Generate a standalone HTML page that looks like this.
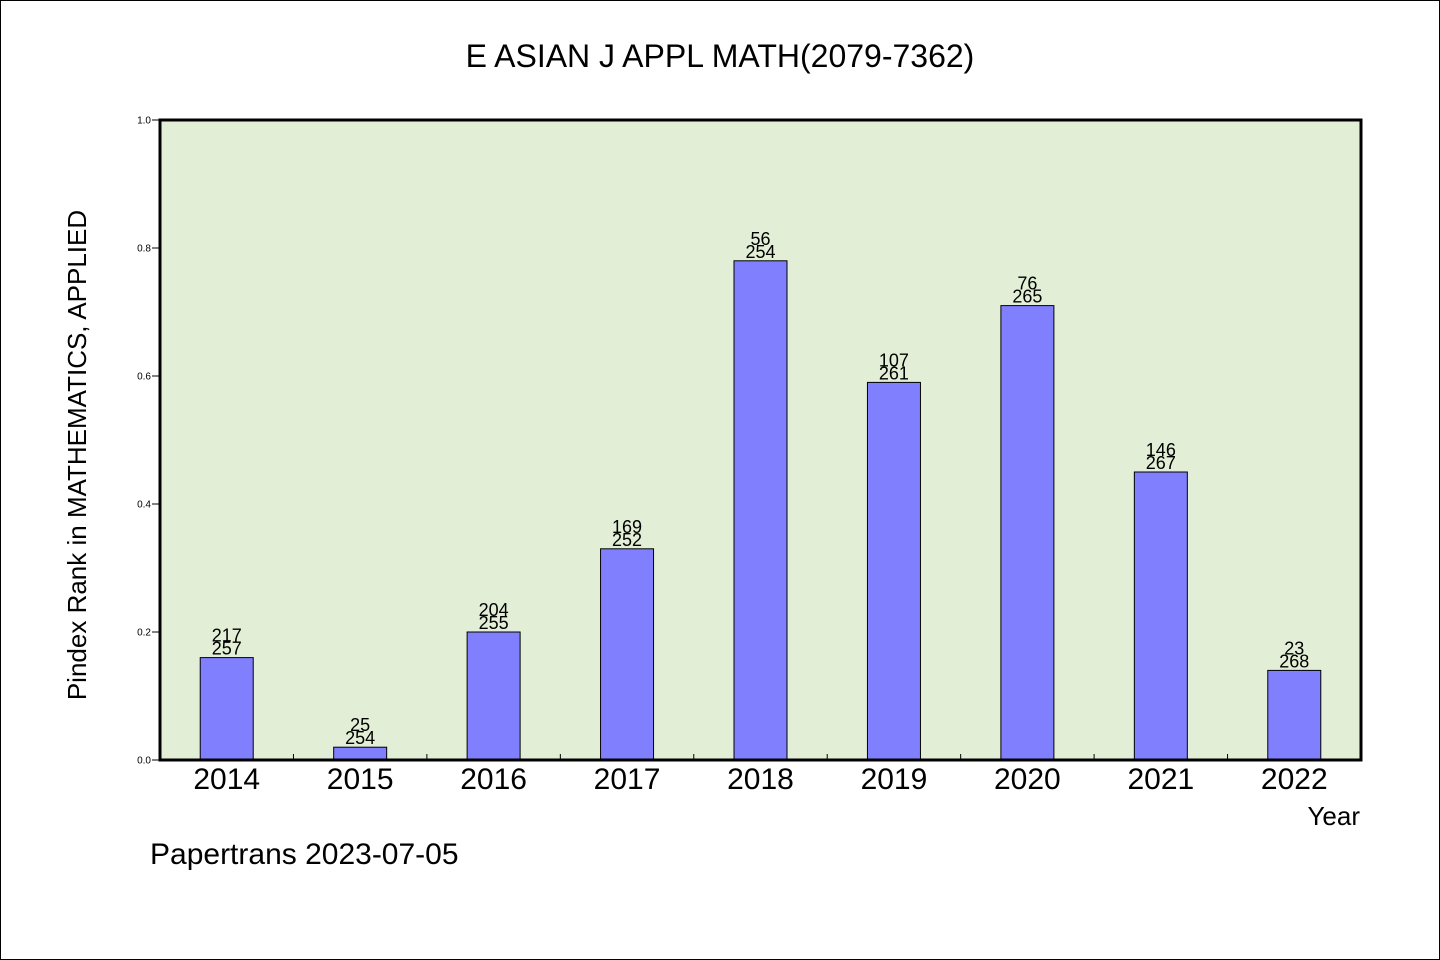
<!DOCTYPE html>
<html><head><meta charset="utf-8"><style>
html,body{margin:0;padding:0;background:#fff}
svg{display:block}
text{font-family:"WenQuanYi Zen Hei","Liberation Sans",sans-serif;fill:#000}
</style></head><body>
<svg id="chart" width="1440" height="960" viewBox="0 0 1440 960">
<rect x="0.5" y="0.5" width="1439" height="959" fill="#fff" stroke="#000"/>
<text x="720" y="67" font-size="32" text-anchor="middle">E ASIAN J APPL MATH(2079-7362)</text>
<rect x="160" y="120" width="1201" height="640" fill="#e2efd6"/>
<g id="bars"></g>
<g id="axes"></g>
<text x="1360" y="825" font-size="26" text-anchor="end">Year</text>
<text transform="translate(86,455) rotate(-90)" font-size="26" text-anchor="middle">Pindex Rank in MATHEMATICS, APPLIED</text>
<text x="150" y="864" font-size="30">Papertrans 2023-07-05</text>
</svg>
<script>
const categories=["2014","2015","2016","2017","2018","2019","2020","2021","2022"];
const values=[0.16,0.02,0.2,0.33,0.78,0.59,0.71,0.45,0.14];
const ranks=[217,25,204,169,56,107,76,146,23];
const totals=[257,254,255,252,254,261,265,267,268];
const yTicks=[0,0.2,0.4,0.6,0.8,1.0];
const X0=160,X1=1361,Y0=760,Y1=120;
const NS="http://www.w3.org/2000/svg";
const step=(X1-X0)/categories.length;
function xc(i){return X0+step*(i+0.5);}
function ys(v){return Y0-(Y0-Y1)*v;}
function mk(tag,attrs,parent){const e=document.createElementNS(NS,tag);for(const k in attrs)e.setAttribute(k,attrs[k]);parent.appendChild(e);return e;}
const bars=document.getElementById('bars'),axes=document.getElementById('axes');
categories.forEach((c,i)=>{
 const x=xc(i),y=ys(values[i]);
 const r=mk('rect',{x:x-26.5,y:y,width:53,height:Y0-y,fill:'#8080ff',stroke:'#000','stroke-width':1},bars);
 
 
 const t1=mk('text',{x:x,y:y-16,'font-size':18,'text-anchor':'middle'},bars);t1.textContent=ranks[i];
 
 
 const t2=mk('text',{x:x,y:y-3,'font-size':18,'text-anchor':'middle'},bars);t2.textContent=totals[i];
 
 
 const xl=mk('text',{x:x,y:789,'font-size':30,'text-anchor':'middle'},axes);xl.textContent=c;
 
 
 if(i>0){const tk=mk('line',{x1:X0+step*i,x2:X0+step*i,y1:Y0,y2:Y0-6,stroke:'#000'},axes);
 
 }
});
yTicks.forEach(v=>{
 const y=ys(v);
 const l=mk('line',{x1:X0-8,x2:X0,y1:y,y2:y,stroke:'#000'},axes);
 
 
 const t=mk('text',{x:X0-9,y:y+3.5,'font-size':10,'text-anchor':'end'},axes);t.textContent=v.toFixed(1);
 
 
});
const b=mk('rect',{x:X0,y:Y1,width:X1-X0,height:Y0-Y1,fill:'none',stroke:'#000','stroke-width':3},axes);


</script>
</body></html>
